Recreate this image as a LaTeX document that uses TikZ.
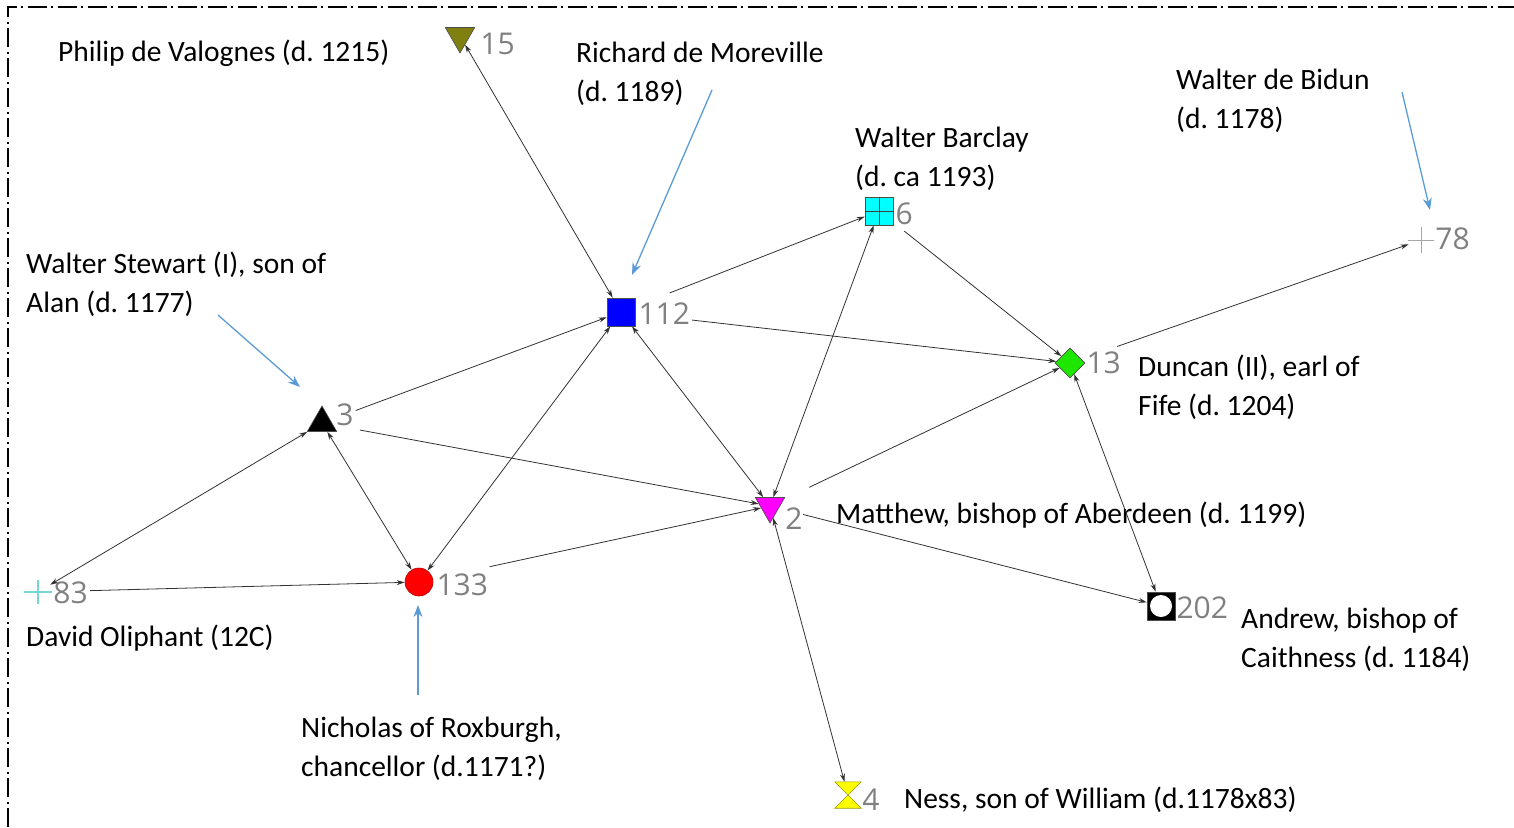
\documentclass[tikz,border=0pt]{standalone}
\usepackage{fontspec}
\setmainfont{Carlito}
\newfontfamily\numfont{Open Sans}
\usetikzlibrary{positioning,shapes.geometric,arrows.meta}
\frenchspacing

\definecolor{numgray}{RGB}{128,128,128}
\definecolor{linkgray}{RGB}{50,50,50}
\definecolor{noteblue}{RGB}{91,155,213}
\definecolor{olivetri}{RGB}{128,128,16}
\definecolor{greendia}{RGB}{30,230,0}
\definecolor{cyansq}{RGB}{0,255,255}
\definecolor{magtri}{RGB}{255,0,255}
\definecolor{yellowhg}{RGB}{255,255,0}

\begin{document}
\begin{tikzpicture}[x=1pt, y=-1pt, every node/.style={font=\fontsize{29.5}{39}\selectfont}]
\tikzstyle{numlab} = [text=numgray, font=\numfont\fontsize{30}{30}\selectfont, inner sep=0pt]
\tikzstyle{actorname} = [align=left, anchor=west, inner sep=0pt]
\tikzstyle{sym} = [inner sep=0pt, draw=black!70, line width=0.6pt]
\tikzstyle{triup} = [sym, regular polygon, regular polygon sides=3, minimum size=34pt]
\tikzstyle{tridown} = [triup, shape border rotate=180]
\tikzstyle{sqbox} = [sym, rectangle, minimum size=28pt]
\tikzstyle{tie} = [draw=linkgray, line width=0.8pt, -{Stealth[length=8pt,width=5pt]}]
\tikzstyle{twoway} = [tie, {Stealth[length=8pt,width=5pt]}-{Stealth[length=8pt,width=5pt]}]
\tikzstyle{pointer} = [draw=noteblue, line width=1.3pt, -{Stealth[length=12pt,width=9pt]}]
\tikzstyle{borderline} = [line width=1.5pt, dash pattern=on 19pt off 4pt on 2pt off 5pt]

\useasboundingbox (0,0) rectangle (1514,827);
\draw [borderline] (8,827) -- (8,7) -- (1514,7);

% Actors
\node (n15) [tridown, fill=olivetri] at (460,36) {};
\node (n112) [sqbox, fill=blue] at (621,312) {};
\node (n6) [sqbox, fill=cyansq] at (879,211) {};
\draw [black!75, line width=0.8pt] (n6.north) -- (n6.south) (n6.west) -- (n6.east);
\node (n13) [sym, diamond, fill=greendia, minimum width=30pt, minimum height=30pt] at (1070,363) {};
\node (n202) [sqbox, fill=black] at (1161,606) {};
\node (n202c) [circle, fill=white, minimum size=22pt, inner sep=0pt] at (n202) {};
\node (n4) [rectangle, minimum size=26pt, inner sep=0pt] at (848,795) {};
\filldraw [fill=yellowhg, draw=yellowhg!60!black, line width=0.6pt] (n4.north west) -- (n4.north east) -- (n4.center)
  -- (n4.south east) -- (n4.south west) -- (n4.center) -- cycle;
\node (n83) [circle, minimum size=28pt, inner sep=0pt] at (38,592) {};
\draw [cyansq!55!gray!70, line width=1.4pt] (n83.west) -- (n83.east) ([yshift=-2pt]n83.north) -- ([yshift=2pt]n83.south);
\node (n78) [circle, minimum size=26pt, inner sep=0pt] at (1421,240) {};
\draw [numgray!70, line width=1pt] (n78.west) -- (n78.east) (n78.north) -- (n78.south);
\node (n3) [triup, fill=black] at (322,423) {};
\node (n2) [tridown, fill=magtri] at (770,506) {};
\node (n133) [circle, fill=red, draw=red!70!black, line width=0.6pt, minimum size=28pt, inner sep=0pt] at (419,582) {};

% Numbers
\node (l15) [numlab, right=10pt of n15, yshift=-8pt] {15};
\node (l112) [numlab, right=3pt of n112, yshift=-2pt] {112};
\node (l6) [numlab, right=2pt of n6, yshift=-3pt] {6};
\node (l13) [numlab, right=1pt of n13] {13};
\node (l202) [numlab, right=1pt of n202, yshift=-2pt] {202};
\node (l4) [numlab, right=1pt of n4, yshift=-5pt] {4};
\node (l83) [numlab, right=1pt of n83, yshift=-1pt] {83};
\node (l78) [numlab, right=1pt of n78, yshift=1pt] {78};
\node (l3) [numlab, right=4pt of n3, yshift=8pt] {3};
\node (l2) [numlab, right=5pt of n2, yshift=-13pt] {2};
\node (l133) [numlab, right=3pt of n133, yshift=-3pt] {133};

% Names
\node (t15) [actorname] at (58,53) {Philip de Valognes (d. 1215)};
\node (t112) [actorname] at (576,73.5) {Richard de Moreville\\(d. 1189)};
\node (t78) [actorname] at (1176,100.5) {Walter de Bidun\\(d. 1178)};
\node (t6) [actorname] at (855,158.5) {Walter Barclay\\(d. ca 1193)};
\node (t3) [actorname] at (26,284.5) {Walter Stewart (I), son of\\Alan (d. 1177)};
\node (t13) [actorname] at (1138,387.5) {Duncan (II), earl of\\Fife (d. 1204)};
\node (t2) [actorname] at (836,515) {Matthew, bishop of Aberdeen (d. 1199)};
\node (t83) [actorname] at (26,638) {David Oliphant (12C)};
\node (t202) [actorname] at (1241,639.5) {Andrew, bishop of\\Caithness (d. 1184)};
\node (t133) [actorname] at (301,748.5) {Nicholas of Roxburgh,\\chancellor (d.1171?)};
\node (t4) [actorname] at (904,800) {Ness, son of William (d.1178x83)};

% Ties
\draw [twoway] (n15) -- (n112);
\draw [tie, shorten <=27pt] (n3) -- (n112);
\draw [tie, shorten <=37pt] (n112) -- (n6);
\draw [tie, shorten <=57pt] (n112) -- (n13);
\draw [twoway] (n133) -- (n112);
\draw [twoway] (n112) -- (n2);
\draw [twoway] (n2) -- (n6);
\draw [tie, shorten <=14pt] (n6) -- (n13);
\draw [tie, shorten <=38pt] (n13) -- (n78);
\draw [tie, shorten <=28pt] (n2) -- (n13);
\draw [twoway] (n13) -- (n202);
\draw [tie, shorten <=27pt] (n3) -- (n2);
\draw [twoway] (n3) -- (n133);
\draw [twoway] (n83) -- (n3);
\draw [tie, shorten <=38pt] (n83) -- (n133);
\draw [tie, shorten <=58pt] (n133) -- (n2);
\draw [tie, shorten <=25pt] (n2) -- (n202);
\draw [twoway] (n2) -- (n4);

% Pointers
\coordinate (p112a) at (712,90);
\coordinate (p112b) at (632,275);
\coordinate (p78a) at (1402,92);
\coordinate (p78b) at (1430,210);
\coordinate (p3a) at (218,315);
\coordinate (p3b) at (300,387);
\coordinate (p133a) at (418,695);
\coordinate (p133b) at (418,605);
\draw [pointer] (p112a) -- (p112b);
\draw [pointer] (p78a) -- (p78b);
\draw [pointer] (p3a) -- (p3b);
\draw [pointer] (p133a) -- (p133b);
\end{tikzpicture}
\end{document}
